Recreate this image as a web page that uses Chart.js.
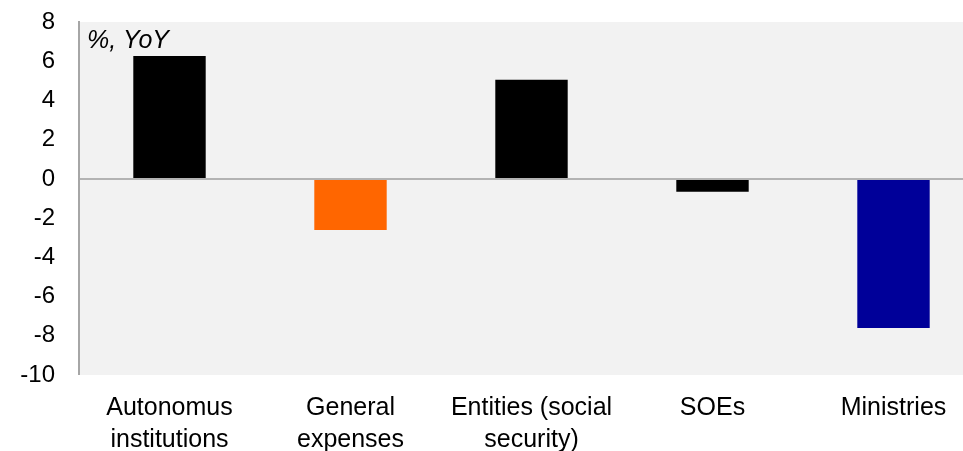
<!DOCTYPE html>
<html>
<head>
<meta charset="utf-8">
<script src="https://cdn.jsdelivr.net/npm/chart.js@4/dist/chart.umd.min.js"></script>
<style>
  html, body { margin: 0; padding: 0; background: #ffffff; overflow: hidden; }
  #wrap { width: 984px; height: 451px; }
</style>
</head>
<body>
<div id="wrap"><canvas id="chart" width="984" height="451"></canvas></div>
<script>
// Spending growth by institution type, % year on year
const categories = [
  ['Autonomus', 'institutions'],
  ['General', 'expenses'],
  ['Entities (social', 'security)'],
  'SOEs',
  'Ministries'
];
const growth = [6.27, -2.6, 5.05, -0.65, -7.6];
const barColors = ['#000000', '#ff6600', '#000000', '#000000', '#000099'];
const yTicks = [-10, -8, -6, -4, -2, 0, 2, 4, 6, 8];
const unitLabel = '%, YoY';

const FONT = '"Liberation Sans", Arial, sans-serif';

// Grey plot background and the unit caption in the top-left corner
const plotDecor = {
  id: 'plotDecor',
  beforeDraw(chart) {
    const { ctx, chartArea: a } = chart;
    ctx.save();
    ctx.fillStyle = '#f2f2f2';
    ctx.fillRect(a.left, a.top, a.right - a.left, a.bottom - a.top);
    ctx.restore();
  },
  afterDraw(chart) {
    const { ctx, chartArea: a } = chart;
    ctx.save();
    ctx.font = 'italic 25px ' + FONT;
    ctx.fillStyle = '#000000';
    ctx.textBaseline = 'alphabetic';
    ctx.textAlign = 'left';
    ctx.fillText(unitLabel, a.left + 8, a.top + 26);
    ctx.restore();
  }
};

new Chart(document.getElementById('chart'), {
  type: 'bar',
  data: {
    labels: categories,
    datasets: [{
      data: growth,
      backgroundColor: barColors,
      borderWidth: 0,
      barPercentage: 0.4,
      categoryPercentage: 1.0
    }]
  },
  options: {
    responsive: false,
    devicePixelRatio: 1,
    animation: false,
    layout: { padding: { top: 22, left: 0, right: 0, bottom: 0 } },
    plugins: {
      legend: { display: false },
      tooltip: { enabled: false },
      title: { display: false }
    },
    scales: {
      x: {
        grid: { display: false, drawTicks: false },
        border: { display: false },
        ticks: {
          color: '#000000',
          font: { family: FONT, size: 25, lineHeight: 1.27 },
          padding: 17,
          maxRotation: 0,
          minRotation: 0,
          autoSkip: false
        },
        afterFit(scale) { scale.height = 76; }
      },
      y: {
        min: -10,
        max: 8,
        z: 1,
        afterBuildTicks(scale) {
          scale.ticks = yTicks.map(v => ({ value: v }));
        },
        grid: {
          drawTicks: true,
          tickLength: 24,
          tickColor: 'rgba(0,0,0,0)',
          color: c => (c.tick && c.tick.value === 0 ? '#b3b3b3' : 'rgba(0,0,0,0)'),
          lineWidth: c => (c.tick && c.tick.value === 0 ? 2 : 0)
        },
        border: { display: true, color: '#a6a6a6', width: 2 },
        ticks: {
          color: '#000000',
          font: { family: FONT, size: 24, lineHeight: 1.0 },
          padding: 0
        },
        afterFit(scale) { scale.width = 79; }
      }
    }
  },
  plugins: [plotDecor]
});
</script>
</body>
</html>
